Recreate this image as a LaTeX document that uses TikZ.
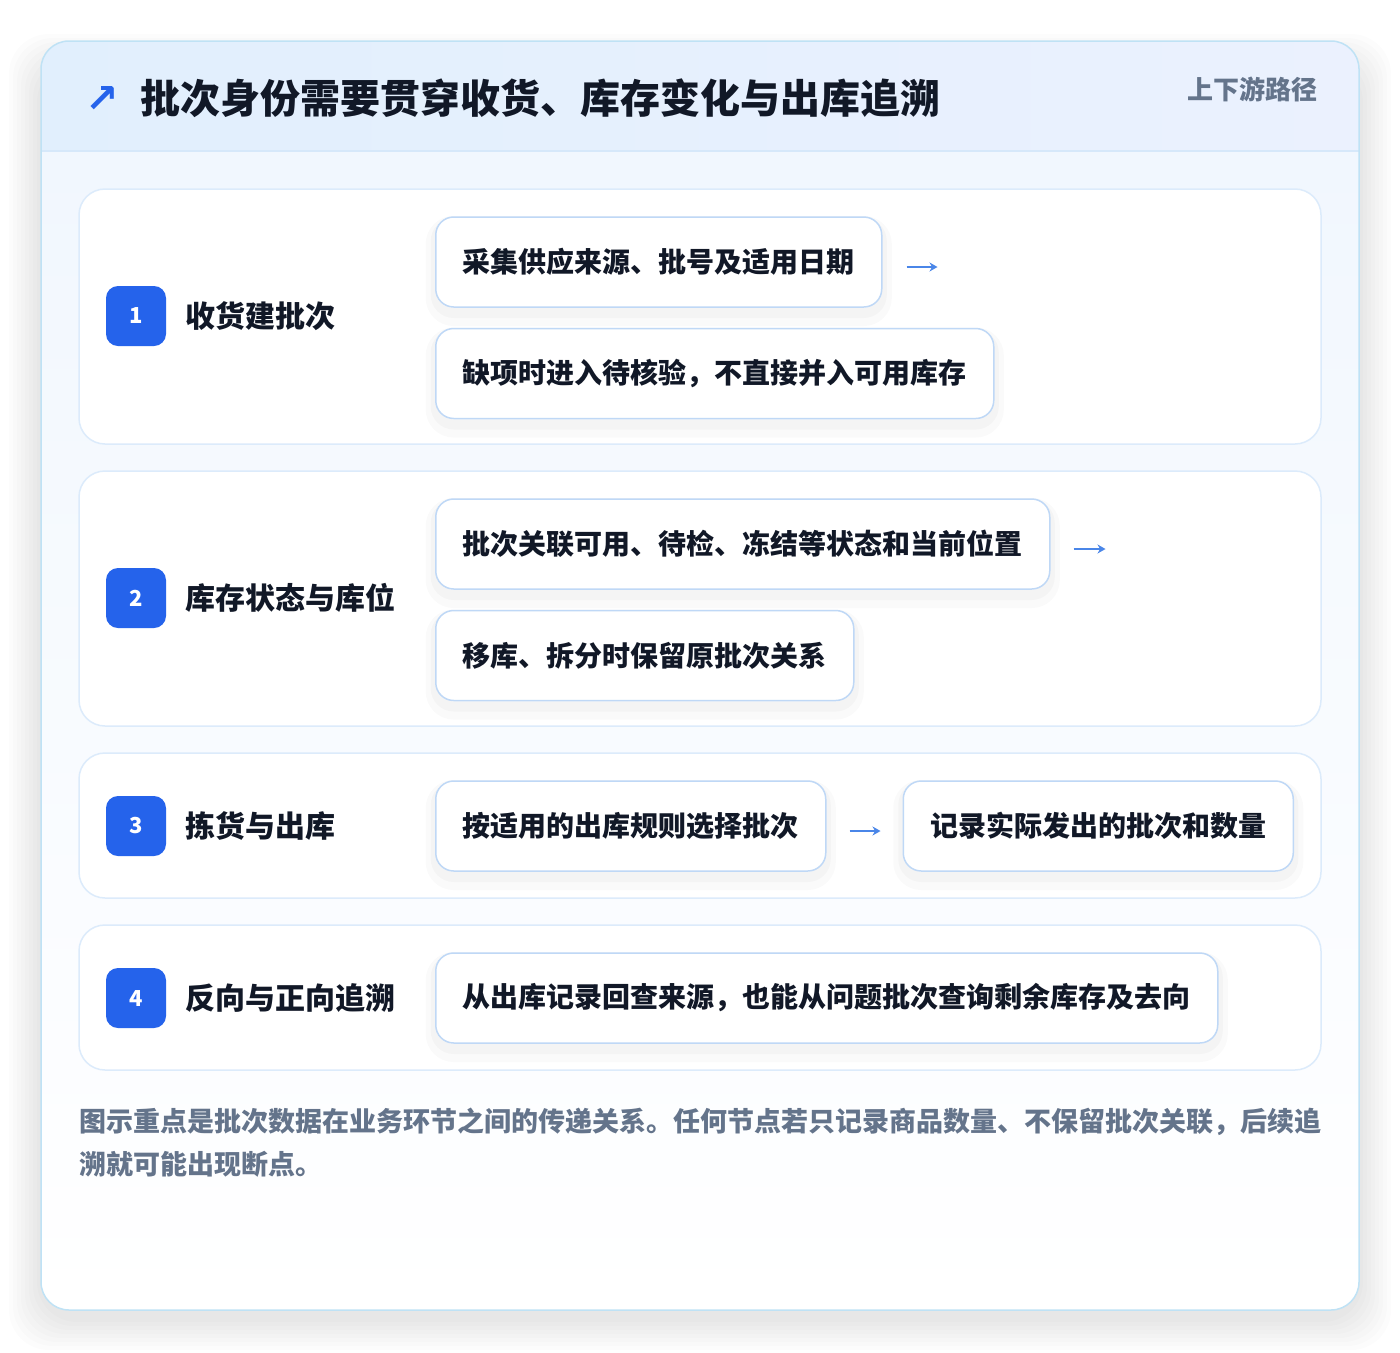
\documentclass[tikz,border=0pt]{standalone}
\usepackage{fontspec}
\setmainfont{Noto Sans CJK SC}
\newfontfamily\symbolfont{DejaVu Sans}
\usetikzlibrary{arrows.meta}
\usetikzlibrary{positioning}

\definecolor{ink}{HTML}{111827}
\definecolor{muted}{HTML}{64748B}
\definecolor{badgeblue}{HTML}{2563EB}
\definecolor{flowblue}{HTML}{4A86E8}
\definecolor{frameline}{HTML}{BFE2F5}
\definecolor{cardline}{HTML}{DCEBFB}
\definecolor{boxline}{HTML}{BFD8F6}
\definecolor{headleft}{HTML}{E1EFFD}
\definecolor{headright}{HTML}{EBF1FE}
\definecolor{headline}{HTML}{D6E8FA}
\definecolor{paneltop}{HTML}{F1F7FE}

\begin{document}
\begin{tikzpicture}[x=1pt, y=-1pt,
  stepcard/.style={draw=cardline, fill=white, line width=1.5pt, rounded corners=26pt},
  badge/.style={fill=badgeblue, text=white, rounded corners=12pt, minimum size=60pt,
    inner sep=0pt, font=\fontsize{22}{22}\selectfont\bfseries},
  steptitle/.style={inner sep=0pt, text=ink, font=\fontsize{30}{30}\selectfont\bfseries},
  stepbox/.style={draw=boxline, fill=white, line width=1.5pt, rounded corners=18pt,
    minimum height=90pt, inner xsep=27pt, inner ysep=0pt, text=ink,
    font=\fontsize{28}{28}\selectfont\bfseries,
    preaction={draw=black, draw opacity=0.018, line width=20pt, transform canvas={yshift=-9pt}},
    preaction={draw=black, draw opacity=0.025, line width=10pt, transform canvas={yshift=-6pt}}},
  flow/.style={-{Stealth[length=8pt,width=9pt]}, draw=flowblue, line width=2.5pt}
]
\useasboundingbox (0,0) rectangle (1400,1352);
\fill[white] (0,0) rectangle (1400,1352);

% soft shadow of the outer panel
\foreach \e in {4,8,...,32}
  \fill[black, opacity=0.011, rounded corners=40pt]
    (41-\e,66-\e) rectangle (1359+\e,1318+\e);

% outer panel
\begin{scope}
  \clip[rounded corners=28pt] (41,41) rectangle (1359,1310);
  \shade[top color=paneltop, bottom color=white] (41,151) rectangle (1359,1310);
  \shade[left color=headleft, right color=headright] (41,41) rectangle (1359,151);
\end{scope}
\draw[headline, line width=1.5pt] (41,151) -- (1359,151);
\draw[frameline, line width=1.5pt, rounded corners=28pt] (41,41) rectangle (1359,1310);

% header
\node[inner sep=0pt, text=badgeblue, font=\symbolfont\bfseries\fontsize{40}{40}\selectfont] (head-icon) at (102,99) {↗};
\node[inner sep=0pt, anchor=west, text=ink, font=\fontsize{40}{40}\selectfont\bfseries]
  (head-title) at (140,98) {批次身份需要贯穿收货、库存变化与出库追溯};
\node[inner sep=0pt, anchor=east, text=muted, font=\fontsize{26}{26}\selectfont\bfseries]
  (head-tag) at (1318,89) {上下游路径};

% step cards
\draw[stepcard] (79,189) rectangle (1321,444);
\draw[stepcard] (79,471) rectangle (1321,726);
\draw[stepcard] (79,753) rectangle (1321,898);
\draw[stepcard] (79,925) rectangle (1321,1070);

% step 1
\node[badge] (badge-1) at (136,316) {\raisebox{-2pt}{1}};
\node[steptitle, right=19pt of badge-1] (title-1) {收货建批次};
\node[stepbox, anchor=west] (box-1a) at (435,262) {采集供应来源、批号及适用日期};
\node[stepbox, below=20pt of box-1a.south west, anchor=north west] (box-1b) {缺项时进入待核验，不直接并入可用库存};
\coordinate[right=55pt of box-1a.east, yshift=-5pt] (flow-1-end);
\draw[flow, shorten <=24pt] (box-1a.east |- flow-1-end) -- (flow-1-end);

% step 2
\node[badge] (badge-2) at (136,598) {\raisebox{-2pt}{2}};
\node[steptitle, right=19pt of badge-2] (title-2) {库存状态与库位};
\node[stepbox, anchor=west] (box-2a) at (435,544) {批次关联可用、待检、冻结等状态和当前位置};
\node[stepbox, below=20pt of box-2a.south west, anchor=north west] (box-2b) {移库、拆分时保留原批次关系};
\coordinate[right=55pt of box-2a.east, yshift=-5pt] (flow-2-end);
\draw[flow, shorten <=23pt] (box-2a.east |- flow-2-end) -- (flow-2-end);

% step 3
\node[badge] (badge-3) at (136,826) {\raisebox{-2pt}{3}};
\node[steptitle, right=19pt of badge-3] (title-3) {拣货与出库};
\node[stepbox, anchor=west] (box-3a) at (435,826) {按适用的出库规则选择批次};
\node[stepbox, right=76pt of box-3a] (box-3b) {记录实际发出的批次和数量};
\draw[flow, shorten <=23pt, shorten >=22pt] ([yshift=-5pt]box-3a.east) -- ([yshift=-5pt]box-3b.west);

% step 4
\node[badge] (badge-4) at (136,998) {\raisebox{-2pt}{4}};
\node[steptitle, right=19pt of badge-4] (title-4) {反向与正向追溯};
\node[stepbox, anchor=west] (box-4a) at (435,998) {从出库记录回查来源，也能从问题批次查询剩余库存及去向};

% note
\node[inner sep=0pt, anchor=north west, align=left, text=muted,
  font=\fontsize{27}{43}\selectfont\bfseries] (note) at (79,1108)
  {图示重点是批次数据在业务环节之间的传递关系。任何节点若只记录商品数量、不保留批次关联，后续追\\溯就可能出现断点。};
\end{tikzpicture}
\end{document}
